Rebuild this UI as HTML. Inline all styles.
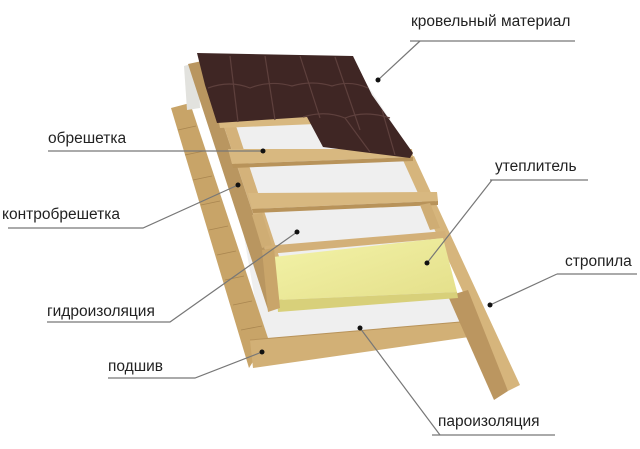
<!DOCTYPE html>
<html><head><meta charset="utf-8"><style>
html,body{margin:0;padding:0;background:#fff;}
svg{display:block}
text{font-family:"Liberation Sans",sans-serif;font-size:15.5px;fill:#222;}
</style></head><body>
<svg width="640" height="449" viewBox="0 0 640 449" xmlns="http://www.w3.org/2000/svg">
<defs>
<linearGradient id="yel" x1="0" y1="0" x2="1" y2="1"><stop offset="0" stop-color="#f3f3a8"/><stop offset="1" stop-color="#e4df8a"/></linearGradient>
</defs>
<!-- membrane -->
<polygon points="215,70 350,58 413,155 462,322 262,340" fill="#efefef"/>
<!-- left board strip (podshiv) -->
<polygon points="171,108 190,103 268,338 249,368" fill="#c8a468"/>
<g stroke="#a98650" stroke-width="0.8">
<line x1="178" y1="130" x2="196" y2="126"/><line x1="185" y1="155" x2="204" y2="151"/><line x1="193" y1="180" x2="212" y2="176"/><line x1="201" y1="205" x2="220" y2="201"/><line x1="209" y1="230" x2="228" y2="226"/><line x1="217" y1="255" x2="236" y2="251"/><line x1="225" y1="280" x2="244" y2="276"/><line x1="233" y1="305" x2="252" y2="301"/><line x1="241" y1="330" x2="262" y2="326"/>
</g>
<!-- bottom board -->
<polygon points="250,340 472,321 476,336 253,368" fill="#d2b076"/>
<line x1="250" y1="340" x2="472" y2="321" stroke="#b8935a" stroke-width="1"/>
<!-- left rafter / counterbatten -->
<polygon points="184,66 198,62 200,108 187,110" fill="#e2e2de"/>
<polygon points="188,64 202,61 282,300 268,310" fill="#b99660"/>
<polygon points="202,61 214,59 292,296 282,300" fill="#d4b27a"/>
<!-- right rafter -->
<polygon points="402,158 414,156 520,385 508,391" fill="#d6b57c"/>
<polygon points="448,296 468,290 508,391 494,400" fill="#bb9660"/>
<!-- battens -->
<polygon points="218,118 315,116 316,124 220,128" fill="#d8b880"/>
<polygon points="228,149 412,149 413,157 232,164" fill="#d8b880"/>
<polygon points="232,164 413,157 413,161 233,168" fill="#b8935a"/>
<polygon points="248,193 437,192 438,201 252,209" fill="#d8b880"/>
<polygon points="252,209 438,201 438,205 253,213" fill="#b8935a"/>
<polygon points="420,205 430,203 440,228 430,230" fill="#cfad74"/>
<polygon points="252,215 262,213 272,245 262,248" fill="#cfad74"/>
<!-- insulation -->
<polygon points="265,246 445,231 447,238 268,254" fill="#d3b078"/>
<polygon points="273,257 443,238 457,292 277,300" fill="url(#yel)"/>
<polygon points="277,300 457,292 458,298 278,312" fill="#d8d07a"/>
<polygon points="262,250 274,248 280,308 268,312" fill="#c9a56a"/>
<!-- tiles -->
<polygon points="197,53 353,56 372,95 413,153 410,158 323,147 307,117 217,123 205,85" fill="#3f2624"/>
<g stroke="#5e403d" stroke-width="1.2" fill="none">
<path d="M208,88 Q230,80 250,88 Q270,80 292,86 Q312,80 332,86 Q350,80 368,88"/>
<path d="M303,117 Q325,110 345,118 Q365,110 390,118"/>
<line x1="230" y1="56" x2="238" y2="122"/><line x1="265" y1="56" x2="275" y2="120"/><line x1="300" y1="56" x2="320" y2="118"/><line x1="335" y1="57" x2="360" y2="130"/><line x1="345" y1="118" x2="370" y2="152"/><line x1="382" y1="110" x2="395" y2="155"/>
</g>
<!-- leader lines -->
<g stroke="#777" stroke-width="1.2" fill="none">
<polyline points="410,41 575,41"/><polyline points="420,41 378,80"/>
<polyline points="48,151 263,151"/>
<polyline points="8,228 143,228 238,185"/>
<polyline points="47,322 170,322 297,232"/>
<polyline points="108,378 195,378 262,352"/>
<polyline points="490,180 588,180"/><polyline points="492,180 427,263"/>
<polyline points="557,274 637,274"/><polyline points="557,274 490,305"/>
<polyline points="432,435 555,435"/><polyline points="440,435 360,328"/>
</g>
<g fill="#111">
<circle cx="378" cy="80" r="2.5"/><circle cx="263" cy="151" r="2.5"/><circle cx="238" cy="185" r="2.5"/><circle cx="297" cy="232" r="2.5"/><circle cx="262" cy="352" r="2.5"/><circle cx="427" cy="263" r="2.5"/><circle cx="490" cy="305" r="2.5"/><circle cx="360" cy="328" r="2.5"/>
</g>
<text x="411" y="26">кровельный материал</text>
<text x="48" y="143">обрешетка</text>
<text x="2" y="219">контробрешетка</text>
<text x="47" y="316">гидроизоляция</text>
<text x="108" y="371">подшив</text>
<text x="495" y="171">утеплитель</text>
<text x="565" y="266">стропила</text>
<text x="438" y="426">пароизоляция</text>
</svg>
</body></html>
